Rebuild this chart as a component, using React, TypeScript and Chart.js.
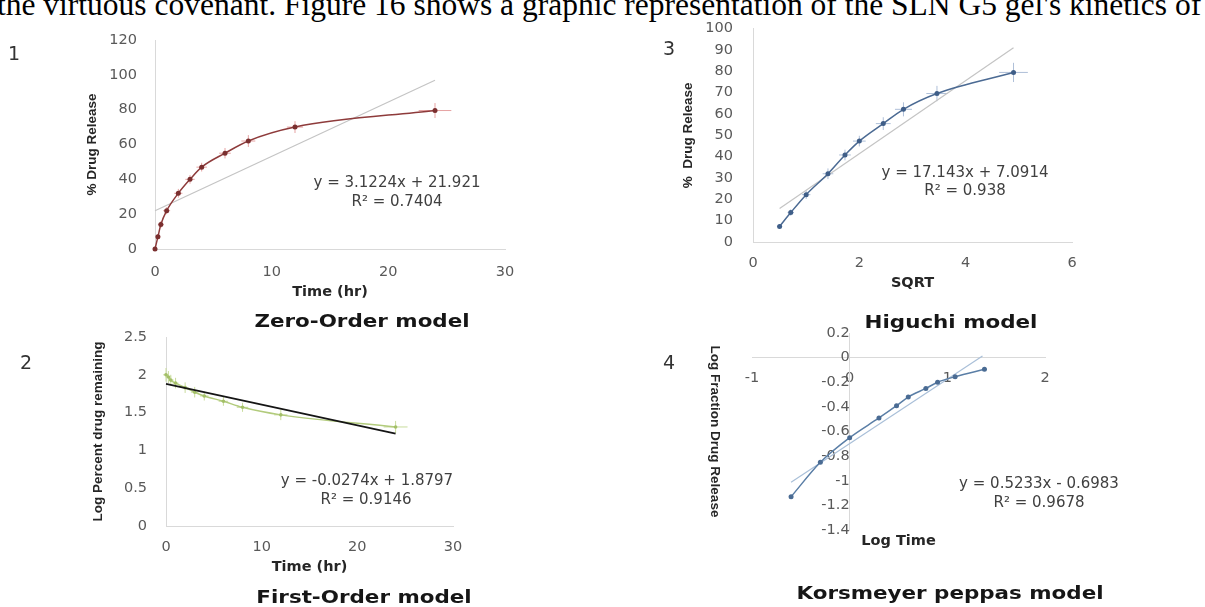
import React, { useEffect, useRef } from 'react';
import { Chart, registerables } from 'chart.js';

Chart.register(...registerables);

// ---------------- DATA ----------------
// Zero-order (panel 1)
const timeHr = [0, 0.25, 0.5, 1, 2, 3, 4, 6, 8, 12, 24];
const zeroOrderRelease = [0, 7, 14, 22, 32, 40, 47, 55, 62, 70, 79.5];
const zeroOrderYErr = [1, 1.5, 2, 2, 2.5, 2.5, 2.5, 3, 3.4, 3.4, 4.3];
const zeroOrderXErr = [0.15, 0.2, 0.25, 0.3, 0.35, 0.4, 0.45, 0.5, 0.6, 0.7, 1.4];
const zeroOrderFit = [3.1224, 21.921]; // slope, intercept
const zeroOrderFitRange = [0, 24];
const zeroXTicks = [0, 10, 20, 30];
const zeroYTicks = [0, 20, 40, 60, 80, 100, 120];

// First-order (panel 2)
const firstOrderLogRemaining = [2.0, 1.97, 1.93, 1.89, 1.83, 1.77, 1.72, 1.65, 1.57, 1.47, 1.31];
const firstOrderYErr = [0.09, 0.08, 0.07, 0.07, 0.07, 0.07, 0.06, 0.06, 0.06, 0.07, 0.08];
const firstOrderXErr = [0.3, 0.3, 0.3, 0.3, 0.35, 0.4, 0.45, 0.5, 0.6, 0.7, 1.25];
const firstOrderFit = [-0.0274, 1.8797];
const firstOrderFitRange = [0, 24];
const firstXTicks = [0, 10, 20, 30];
const firstYTicks = [0, 0.5, 1, 1.5, 2, 2.5];

// Higuchi (panel 3)
const sqrtTime = [0.5, 0.71, 1, 1.41, 1.73, 2, 2.45, 2.83, 3.46, 4.9];
const higuchiRelease = [7.3, 13.8, 22.2, 32, 40.8, 47.3, 55.5, 62.2, 69.6, 79.5];
const higuchiYErr = [1, 1.5, 2, 2.5, 2.5, 2.5, 3, 3.3, 3.6, 4.5];
const higuchiXErr = [0.05, 0.06, 0.08, 0.1, 0.11, 0.12, 0.14, 0.16, 0.2, 0.27];
const higuchiFit = [17.143, 7.0914];
const higuchiFitRange = [0.5, 4.9];
const higuchiXTicks = [0, 2, 4, 6];
const higuchiYTicks = [0, 10, 20, 30, 40, 50, 60, 70, 80, 90, 100];

// Korsmeyer-Peppas (panel 4)
const logTime = [-0.6, -0.3, 0, 0.3, 0.48, 0.6, 0.78, 0.9, 1.08, 1.38];
const logFractionRelease = [-1.13, -0.85, -0.65, -0.49, -0.39, -0.32, -0.25, -0.2, -0.155, -0.095];
const kpFit = [0.5233, -0.6983];
const kpFitRange = [-0.6, 1.36];
const kpXTicks = [-1, 0, 1, 2];
const kpYTicks = [-1.4, -1.2, -1, -0.8, -0.6, -0.4, -0.2, 0, 0.2];

// ---------------- HELPERS ----------------
const W = 1205;
const H = 607;
const TICK_FONT = { family: '"DejaVu Sans", sans-serif', size: 14.5 };
const X_TITLE_FONT = { family: '"DejaVu Sans", sans-serif', size: 14.5, weight: 'bold' as const };
const Y_TITLE_FONT = { family: '"Liberation Sans", Arial, sans-serif', size: 13.5, weight: 'bold' as const };

const pts = (xs: number[], ys: number[]) => xs.map((x, i) => ({ x, y: ys[i] }));
const fitLine = (coef: number[], range: number[]) =>
  range.map((x) => ({ x, y: coef[0] * x + coef[1] }));

const errorBarPlugin = {
  id: 'errorBars',
  beforeDatasetsDraw(chart: any) {
    const ctx = chart.ctx;
    const xs = chart.scales.x;
    const ys = chart.scales.y;
    chart.data.datasets.forEach((ds: any) => {
      if (!ds.errorBars) return;
      ctx.save();
      ctx.strokeStyle = ds.errorBars.color;
      ctx.lineWidth = 1;
      ds.data.forEach((p: any, j: number) => {
        const ex = ds.errorBars.x[j] || 0;
        const ey = ds.errorBars.y[j] || 0;
        const px = xs.getPixelForValue(p.x);
        const py = ys.getPixelForValue(p.y);
        ctx.beginPath();
        if (ey) {
          ctx.moveTo(px, ys.getPixelForValue(p.y - ey));
          ctx.lineTo(px, ys.getPixelForValue(p.y + ey));
        }
        if (ex) {
          ctx.moveTo(xs.getPixelForValue(p.x - ex), py);
          ctx.lineTo(xs.getPixelForValue(p.x + ex), py);
        }
        ctx.stroke();
      });
      ctx.restore();
    });
  },
};

type Spec = {
  area: { left: number; top: number; right: number; bottom: number };
  xMin: number; xMax: number; yMin: number; yMax: number;
  xTicks: number[]; yTicks: number[];
  xTitle: string; yTitle: string;
  xTitleY: number; yTitleX: number;
  xTickPad: number; yTickPad: number;
  crossed?: boolean;
  datasets: any[];
};

function buildConfig(s: Spec): any {
  const xHalf = (X_TITLE_FONT.size * 1.2) / 2;
  const yHalf = (Y_TITLE_FONT.size * 1.2) / 2;
  const a = s.area;
  let yW: number, xH: number, padding: any;
  if (s.crossed) {
    const x0 = a.left + ((0 - s.xMin) / (s.xMax - s.xMin)) * (a.right - a.left);
    const y0 = a.top + ((s.yMax - 0) / (s.yMax - s.yMin)) * (a.bottom - a.top);
    yW = x0 - s.yTitleX + yHalf;
    xH = s.xTitleY - y0 + xHalf;
    padding = { left: a.left, top: a.top, right: W - a.right, bottom: H - a.bottom };
  } else {
    yW = a.left - s.yTitleX + yHalf;
    xH = s.xTitleY + xHalf - a.bottom;
    padding = { left: a.left - yW, top: a.top, right: W - a.right, bottom: H - a.bottom - xH };
  }
  const axisCommon = {
    type: 'linear',
    grid: { display: false, drawTicks: false },
    border: { display: true, color: '#d9d9d9', width: 1 },
  };
  return {
    type: 'scatter',
    data: { datasets: s.datasets },
    options: {
      responsive: false,
      animation: false,
      events: [],
      layout: { padding, autoPadding: false },
      plugins: { legend: { display: false }, tooltip: { enabled: false } },
      scales: {
        x: {
          ...axisCommon,
          min: s.xMin,
          max: s.xMax,
          position: s.crossed ? { y: 0 } : 'bottom',
          afterBuildTicks: (sc: any) => { sc.ticks = s.xTicks.map((v) => ({ value: v })); },
          afterFit: (sc: any) => { sc.height = xH; },
          ticks: {
            padding: s.xTickPad, color: '#595959', font: TICK_FONT,
            autoSkip: false, maxRotation: 0, callback: (v: any) => String(v),
          },
          title: { display: true, text: s.xTitle, font: X_TITLE_FONT, color: '#262626', padding: 0 },
        },
        y: {
          ...axisCommon,
          min: s.yMin,
          max: s.yMax,
          position: s.crossed ? { x: 0 } : 'left',
          afterBuildTicks: (sc: any) => { sc.ticks = s.yTicks.map((v) => ({ value: v })); },
          afterFit: (sc: any) => { sc.width = yW; },
          ticks: {
            padding: s.yTickPad, color: '#595959', font: TICK_FONT,
            autoSkip: false, callback: (v: any) => String(v),
          },
          title: { display: true, text: s.yTitle, font: Y_TITLE_FONT, color: '#262626', padding: 0 },
        },
      },
    },
    plugins: [errorBarPlugin],
  };
}

const dataLine = (data: any[], color: string, markColor: string, err?: any, radius = 2.5) => ({
  data,
  showLine: true,
  borderColor: color,
  borderWidth: 1.5,
  cubicInterpolationMode: 'monotone',
  pointRadius: radius,
  pointBackgroundColor: markColor,
  pointBorderColor: markColor,
  pointBorderWidth: 0,
  clip: 12,
  order: 1,
  errorBars: err,
});
const trendLine = (data: any[], color: string, width: number, order: number) => ({
  data,
  showLine: true,
  borderColor: color,
  borderWidth: width,
  pointRadius: 0,
  clip: 12,
  order,
});

const specs: Spec[] = [
  {
    area: { left: 155, top: 40, right: 505, bottom: 249 },
    xMin: 0, xMax: 30, yMin: 0, yMax: 120, xTicks: zeroXTicks, yTicks: zeroYTicks,
    xTitle: 'Time (hr)', yTitle: '% Drug Release', xTitleY: 292, yTitleX: 92,
    xTickPad: 14.3, yTickPad: 18,
    datasets: [
      trendLine(fitLine(zeroOrderFit, zeroOrderFitRange), '#c4c4c4', 1.2, 2),
      dataLine(pts(timeHr, zeroOrderRelease), '#8e3b3b', '#7a2f2f',
        { x: zeroOrderXErr, y: zeroOrderYErr, color: '#e6a3a3' }),
    ],
  },
  {
    area: { left: 166, top: 337, right: 453, bottom: 526 },
    xMin: 0, xMax: 30, yMin: 0, yMax: 2.5, xTicks: firstXTicks, yTicks: firstYTicks,
    xTitle: 'Time (hr)', yTitle: 'Log Percent drug remaining', xTitleY: 567, yTitleX: 98,
    xTickPad: 12.3, yTickPad: 19,
    datasets: [
      dataLine(pts(timeHr, firstOrderLogRemaining), '#b2cb7c', '#a3bf68',
        { x: firstOrderXErr, y: firstOrderYErr, color: '#c9dc9c' }, 1.8),
      trendLine(fitLine(firstOrderFit, firstOrderFitRange), '#151515', 1.6, 0),
    ],
  },
  {
    area: { left: 753, top: 18, right: 1072, bottom: 242 },
    xMin: 0, xMax: 6, yMin: 0, yMax: 100, xTicks: higuchiXTicks, yTicks: higuchiYTicks,
    xTitle: 'SQRT', yTitle: '%  Drug Release', xTitleY: 283, yTitleX: 688,
    xTickPad: 12.3, yTickPad: 20,
    datasets: [
      trendLine(fitLine(higuchiFit, higuchiFitRange), '#c4c4c4', 1.2, 2),
      dataLine(pts(sqrtTime, higuchiRelease), '#4b6a93', '#3f5e88',
        { x: higuchiXErr, y: higuchiYErr, color: '#aebfd8' }),
    ],
  },
  {
    area: { left: 752, top: 333, right: 1045, bottom: 530 }, crossed: true,
    xMin: -1, xMax: 2, yMin: -1.4, yMax: 0.2, xTicks: kpXTicks, yTicks: kpYTicks,
    xTitle: 'Log Time', yTitle: 'Log Fraction Drug Release', xTitleY: 541, yTitleX: 715,
    xTickPad: 11.7, yTickPad: 19.7,
    datasets: [
      trendLine(fitLine(kpFit, kpFitRange), '#a9bfd8', 1.2, 2),
      dataLine(pts(logTime, logFractionRelease), '#5a7ea6', '#4a6b93'),
    ],
  },
];

function Panel({ spec }: { spec: Spec }) {
  const ref = useRef<HTMLCanvasElement>(null);
  useEffect(() => {
    const chart = new Chart(ref.current as HTMLCanvasElement, buildConfig(spec));
    return () => chart.destroy();
  }, [spec]);
  return (
    <canvas
      ref={ref}
      width={W}
      height={H}
      style={{ position: 'absolute', left: 0, top: 0, width: W, height: H }}
    />
  );
}

function Label({ x, y, children, style }: any) {
  return (
    <div
      style={{
        position: 'absolute', left: x, top: y, transform: 'translate(-50%,-50%)',
        whiteSpace: 'pre', lineHeight: 1, fontFamily: '"DejaVu Sans", sans-serif', ...style,
      }}
    >
      {children}
    </div>
  );
}

const modelTitle = {
  fontSize: 18, fontWeight: 'bold', color: '#161616',
  transform: 'translate(-50%,-50%) scaleX(1.19)',
};
const eqStyle = { fontSize: 15, color: '#404040' };
const numStyle = { fontSize: 19, color: '#333333' };

export default function App() {
  return (
    <div
      style={{
        position: 'absolute', left: 0, top: 0, width: W, height: H,
        overflow: 'hidden', background: '#ffffff',
      }}
    >
      <div
        style={{
          position: 'absolute', left: -3, top: -11.5, whiteSpace: 'nowrap',
          fontFamily: '"Liberation Serif", "Times New Roman", serif', fontSize: 31.5,
          lineHeight: '31.5px', color: '#000',
        }}
      >
        the virtuous covenant. Figure 16 shows a graphic representation of the SLN G5 gel's kinetics of
      </div>

      {specs.map((s, i) => (
        <Panel key={i} spec={s} />
      ))}

      <Label x={14} y={53} style={numStyle}>1</Label>
      <Label x={26} y={362} style={numStyle}>2</Label>
      <Label x={669} y={48} style={numStyle}>3</Label>
      <Label x={669} y={362} style={numStyle}>4</Label>

      <Label x={397} y={182} style={eqStyle}>y = 3.1224x + 21.921</Label>
      <Label x={397} y={201} style={eqStyle}>R² = 0.7404</Label>
      <Label x={367} y={480} style={eqStyle}>y = -0.0274x + 1.8797</Label>
      <Label x={366} y={499} style={eqStyle}>R² = 0.9146</Label>
      <Label x={965} y={172} style={eqStyle}>y = 17.143x + 7.0914</Label>
      <Label x={965} y={190} style={eqStyle}>R² = 0.938</Label>
      <Label x={1039} y={483} style={eqStyle}>y = 0.5233x - 0.6983</Label>
      <Label x={1039} y={502} style={eqStyle}>R² = 0.9678</Label>

      <Label x={362} y={321} style={modelTitle}>Zero-Order model</Label>
      <Label x={951} y={322} style={modelTitle}>Higuchi model</Label>
      <Label x={364} y={597} style={modelTitle}>First-Order model</Label>
      <Label x={950} y={593} style={modelTitle}>Korsmeyer peppas model</Label>
    </div>
  );
}
